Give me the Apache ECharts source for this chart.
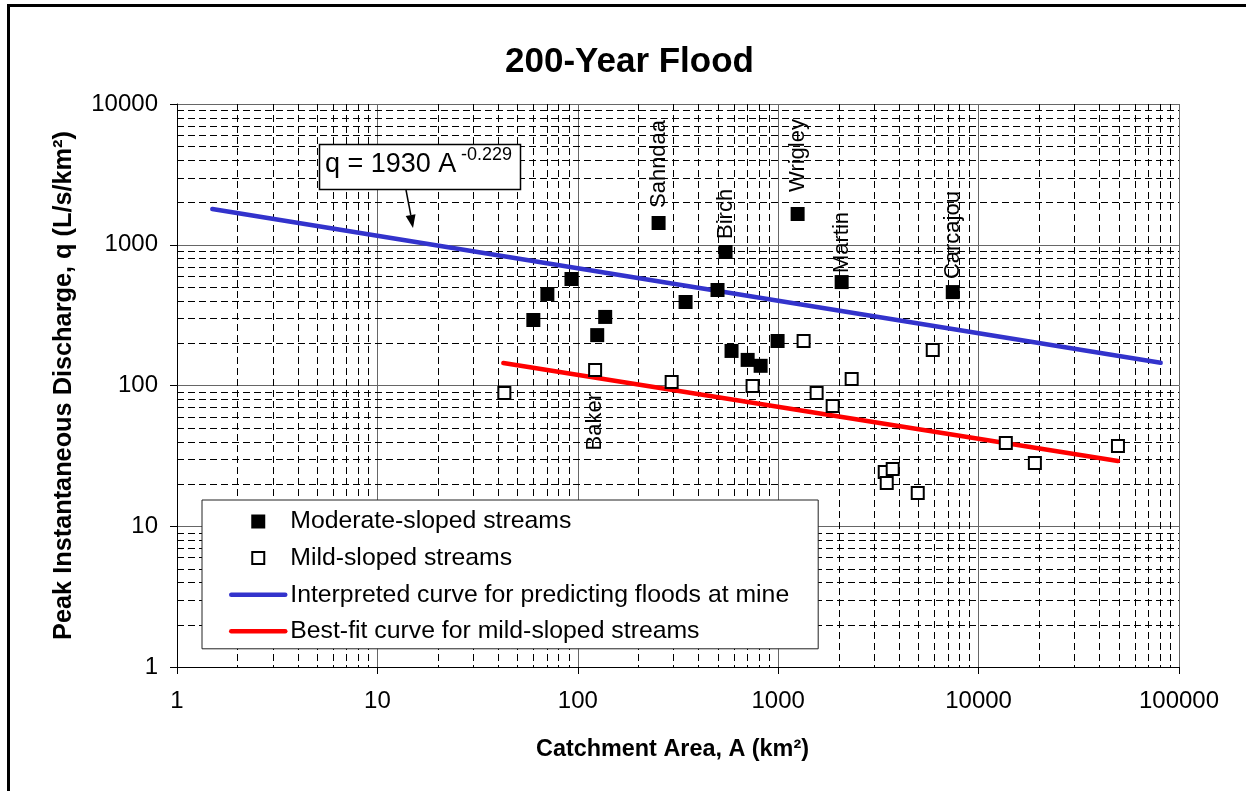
<!DOCTYPE html>
<html><head><meta charset="utf-8">
<script src="https://cdn.jsdelivr.net/npm/echarts@6/dist/echarts.min.js"></script>
<style>html,body{margin:0;padding:0;background:#fff}#c{width:1246px;height:791px}</style>
</head><body><div id="c"></div>
<script>
const FONT = "'Liberation Sans', Arial, Helvetica, sans-serif";

// Axis ticks
const xTickLabels = [1, 10, 100, 1000, 10000, 100000];
const yTickLabels = [1, 10, 100, 1000, 10000];
const minorMultipliers = [2, 3, 4, 5, 6, 7, 8, 9];

// Moderate-sloped streams (filled squares)
const modArea = [60, 70.5, 93, 125, 137, 253, 345, 498, 546, 585, 704, 817, 993, 1250, 2073, 7431];
const modQ    = [292, 447, 571, 228, 307, 1427, 392, 477, 888, 176, 152, 138, 207, 1654, 543, 461];
const modNames = ['', '', '', '', '', 'Sahndaa', '', '', 'Birch', '', '', '', '', 'Wrigley', 'Martin', 'Carcajou'];

// Mild-sloped streams (open squares)
const mildArea = [43, 122, 294, 745, 1339, 1555, 1870, 2326, 3401, 3727, 3480, 4970, 5905, 13670, 19090, 49590];
const mildQ    = [88.5, 129, 106, 99, 207, 88.5, 71.5, 111, 24.3, 25.5, 20.3, 17.2, 179, 39.0, 28.1, 37.2];
const mildNames = ['', 'Baker', '', '', '', '', '', '', '', '', '', '', '', '', '', ''];

// Interpreted curve (blue) and best-fit curve (red) end points
const blueArea = [1.5, 81000];
const blueQ    = [1795, 145];
const redArea  = [42.5, 49600];
const redQ     = [144.5, 29.1];

const seriesNames = ['Moderate-sloped streams', 'Mild-sloped streams',
  'Interpreted curve for predicting floods at mine', 'Best-fit curve for mild-sloped streams'];

// label placement (style only)
const labelPlace = {
  Sahndaa: {position: 'top', distance: 6, offset: [2, 0]},
  Birch: {position: 'top', distance: 5, offset: [1, 0]},
  Wrigley: {position: 'top', distance: 11, offset: [4, 0]},
  Martin: {position: 'top', distance: 2, offset: [0, 0]},
  Carcajou: {position: 'top', distance: 2, offset: [4, 0]},
  Baker: {position: 'bottom', distance: 16, offset: [0, 0]}
};

// legend icons: a square centred in the 54x14 legend slot
const filledIcon = 'path://M0,0 M54,14 M20,0h14v14h-14z';
const openIcon = 'path://M0,0 M54,14 M21,1h12v12h-12z';

function minorValues(ticks) {
  const out = [];
  for (let i = 0; i < ticks.length - 1; i++) {
    minorMultipliers.forEach(m => out.push(ticks[i] * m));
  }
  return out;
}
const xMinor = minorValues(xTickLabels);
const yMinor = minorValues(yTickLabels);

function makeLabel(name) {
  const p = labelPlace[name];
  const top = p.position === 'top';
  return {
    show: true, position: p.position, distance: p.distance, offset: p.offset,
    rotate: 90, align: top ? 'left' : 'right', verticalAlign: 'middle',
    formatter: '{b}', fontSize: 22, color: '#000', fontFamily: FONT, opacity: 1
  };
}
function pts(xs, ys, names) {
  return xs.map((a, i) => {
    const o = {value: [a, ys[i]], name: names ? names[i] : ''};
    if (names && names[i]) o.label = makeLabel(names[i]);
    return o;
  });
}

const dash = [7, 4];
function vLine(params, api) {
  const cs = params.coordSys;
  const p = api.coord([api.value(0), yTickLabels[0]]);
  const x = Math.round(p[0]) + 0.5;
  return {type: 'line', silent: true, shape: {x1: x, y1: cs.y, x2: x, y2: cs.y + cs.height},
    style: {stroke: '#000', lineWidth: 1, lineDash: dash}};
}
function hLine(params, api) {
  const cs = params.coordSys;
  const p = api.coord([xTickLabels[0], api.value(1)]);
  const y = Math.round(p[1]) + 0.5;
  return {type: 'line', silent: true, shape: {x1: cs.x, y1: y, x2: cs.x + cs.width, y2: y},
    style: {stroke: '#000', lineWidth: 1, lineDash: dash}};
}

const chart = echarts.init(document.getElementById('c'), null, {renderer: 'canvas'});
const axisCommon = {
  type: 'log', logBase: 10,
  axisLine: {show: true, onZero: false, lineStyle: {color: '#000', width: 1}},
  axisTick: {show: true, length: 7, lineStyle: {color: '#000', width: 1}},
  splitLine: {show: true, lineStyle: {color: '#666', width: 1, type: 'solid'}},
  minorTick: {show: false}, minorSplitLine: {show: false}
};
const hiddenSymbol = {color: 'rgba(0,0,0,0)', borderWidth: 0, opacity: 0};
chart.setOption({
  animation: false,
  backgroundColor: '#fff',
  title: {
    text: '200-Year Flood', left: 505, top: 45, padding: 0,
    textStyle: {fontSize: 35, fontWeight: 'bold', color: '#000', fontFamily: FONT}
  },
  grid: {left: 177, right: 67, top: 104, bottom: 124},
  xAxis: Object.assign({}, axisCommon, {
    min: xTickLabels[0], max: xTickLabels[xTickLabels.length - 1], splitNumber: xTickLabels.length - 1,
    axisLabel: {formatter: v => String(Math.round(v)), fontSize: 24, color: '#000', fontFamily: FONT, margin: 22},
    name: 'Catchment Area, A (km²)', nameLocation: 'middle', nameGap: 71,
    nameTextStyle: {fontSize: 23.4, fontWeight: 'bold', color: '#000', fontFamily: FONT, padding: [0, 11, 0, 0]}
  }),
  yAxis: Object.assign({}, axisCommon, {
    min: yTickLabels[0], max: yTickLabels[yTickLabels.length - 1], splitNumber: yTickLabels.length - 1,
    axisLabel: {formatter: v => String(Math.round(v)), fontSize: 24, color: '#000', fontFamily: FONT, margin: 19},
    name: 'Peak Instantaneous Discharge, q (L/s/km²)', nameLocation: 'middle', nameGap: 100, nameRotate: 90,
    nameTextStyle: {fontSize: 25.3, fontWeight: 'bold', color: '#000', fontFamily: FONT}
  }),
  legend: {
    orient: 'vertical', left: 202, top: 500, padding: [9, 29, 5, 27],
    itemWidth: 54, itemHeight: 14, itemGap: 11.6, selectedMode: false, z: 10,
    backgroundColor: '#fff', borderColor: '#222', borderWidth: 1,
    textStyle: {fontSize: 24.8, color: '#000', fontFamily: FONT, lineHeight: 24},
    lineStyle: {width: 4.5},
    data: [
      {name: seriesNames[0], icon: filledIcon, itemStyle: {color: '#000', borderWidth: 0, opacity: 1}},
      {name: seriesNames[1], icon: openIcon, itemStyle: {color: '#fff', borderColor: '#000', borderWidth: 2, opacity: 1}},
      {name: seriesNames[2], itemStyle: hiddenSymbol},
      {name: seriesNames[3], itemStyle: hiddenSymbol}
    ]
  },
  graphic: [
    {type: 'line', shape: {x1: 8.5, y1: 4, x2: 8.5, y2: 791}, style: {stroke: '#000', lineWidth: 3}},
    {type: 'line', shape: {x1: 7, y1: 5.5, x2: 1246, y2: 5.5}, style: {stroke: '#000', lineWidth: 3}},
    {type: 'rect', z: 100, shape: {x: 319.5, y: 144.5, width: 201, height: 45},
      style: {fill: '#fff', stroke: '#000', lineWidth: 1.5}},
    {type: 'text', z: 101, x: 325, y: 165,
      style: {text: 'q = 1930 A', fontSize: 27, fontFamily: FONT, fill: '#000', verticalAlign: 'middle', textVerticalAlign: 'middle'}},
    {type: 'text', z: 101, x: 461, y: 155,
      style: {text: '-0.229', fontSize: 18, fontFamily: FONT, fill: '#000', verticalAlign: 'middle', textVerticalAlign: 'middle'}},
    {type: 'line', z: 100, shape: {x1: 406, y1: 190, x2: 410.8, y2: 215}, style: {stroke: '#000', lineWidth: 1.5}},
    {type: 'polygon', z: 100, shape: {points: [[413, 228], [415.5, 214.3], [405.7, 216.1]]}, style: {fill: '#000'}}
  ],
  series: [
    {name: 'minorX', type: 'custom', z: 1, silent: true, renderItem: vLine, clip: true,
      data: xMinor.map(v => [v, yTickLabels[0]])},
    {name: 'minorY', type: 'custom', z: 1, silent: true, renderItem: hLine, clip: true,
      data: yMinor.map(v => [xTickLabels[0], v])},
    {name: seriesNames[2], type: 'line', z: 3, symbol: 'none', showSymbol: false, silent: true,
      lineStyle: {color: '#3333CC', width: 4.5, cap: 'round'}, itemStyle: {color: '#3333CC'},
      data: blueArea.map((a, i) => [a, blueQ[i]])},
    {name: seriesNames[3], type: 'line', z: 3, symbol: 'none', showSymbol: false, silent: true,
      lineStyle: {color: '#FF0000', width: 4.5, cap: 'round'}, itemStyle: {color: '#FF0000'},
      data: redArea.map((a, i) => [a, redQ[i]])},
    {name: seriesNames[0], type: 'scatter', z: 5, symbol: 'rect', symbolSize: 14, silent: true,
      itemStyle: {color: '#000', opacity: 1}, data: pts(modArea, modQ, modNames)},
    {name: seriesNames[1], type: 'scatter', z: 5, symbol: 'rect', symbolSize: 12, silent: true,
      itemStyle: {color: '#fff', borderColor: '#000', borderWidth: 2, opacity: 1}, data: pts(mildArea, mildQ, mildNames)}
  ]
});
</script></body></html>
